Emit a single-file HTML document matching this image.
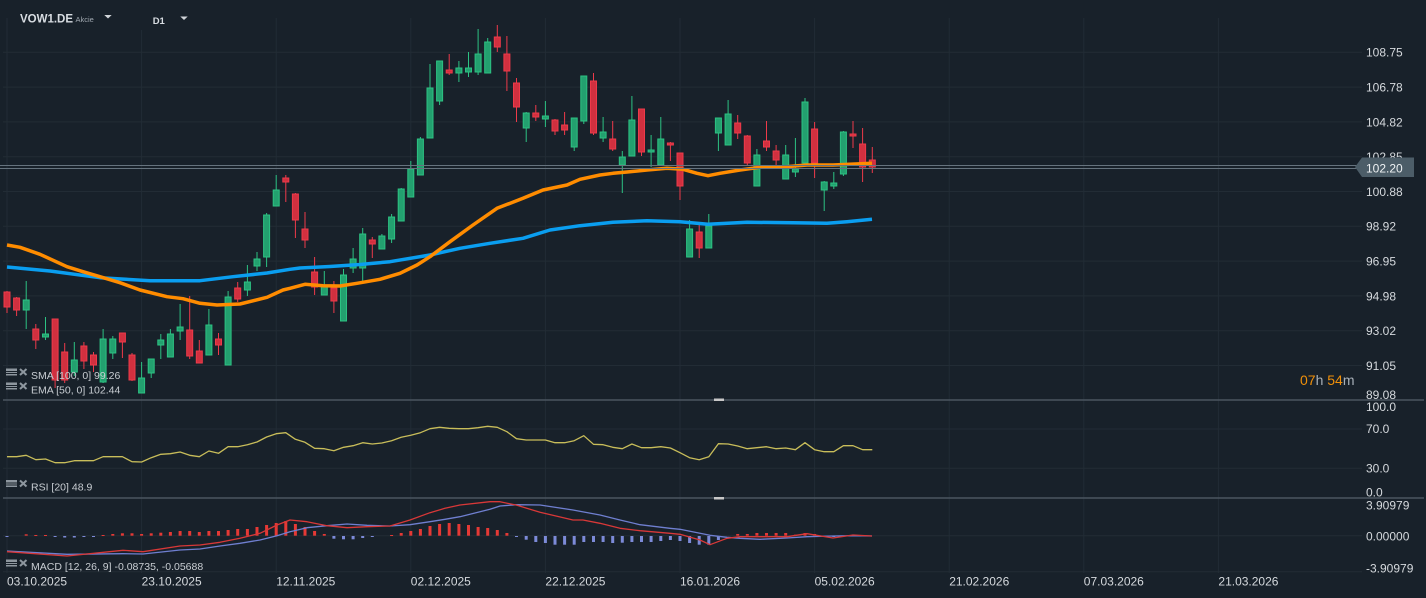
<!DOCTYPE html>
<html><head><meta charset="utf-8"><style>
html,body{margin:0;padding:0;background:#18212a;}
svg{display:block;font-family:"Liberation Sans",Arial,sans-serif;}
.gr{stroke:#222c35;stroke-width:1;}
.g{fill:#23a06f;stroke:#2cc283;stroke-width:1;}
.r{fill:#d1303f;stroke:#ee3a4a;stroke-width:1;}
.gw{stroke:#2cc283;stroke-width:1;}
.rw{stroke:#ee3a4a;stroke-width:1;}
.ax{fill:#d5d9dd;font-size:12px;}
.lg{fill:#c8cdd2;font-size:10.5px;}
.hr{fill:#e53935;}
.hb{fill:#7c8ad8;}
.ic{fill:#8e979f;}
.icx{stroke:#8e979f;stroke-width:2;}
</style></head><body>
<svg width="1426" height="598" viewBox="0 0 1426 598" xmlns="http://www.w3.org/2000/svg">
<rect width="1426" height="598" fill="#18212a"/>
<!-- vertical grid -->
<g class="gr">
<line x1="7" y1="18" x2="7" y2="573"/><line x1="141.6" y1="30" x2="141.6" y2="573"/><line x1="276.2" y1="18" x2="276.2" y2="573"/><line x1="410.8" y1="18" x2="410.8" y2="573"/><line x1="545.4" y1="18" x2="545.4" y2="573"/><line x1="680" y1="18" x2="680" y2="573"/><line x1="814.6" y1="18" x2="814.6" y2="573"/><line x1="949.2" y1="18" x2="949.2" y2="573"/><line x1="1083.8" y1="18" x2="1083.8" y2="573"/><line x1="1218.4" y1="18" x2="1218.4" y2="573"/>
<!-- horizontal grid -->
<line x1="3" y1="52.3" x2="1362" y2="52.3"/><line x1="3" y1="87.1" x2="1362" y2="87.1"/><line x1="3" y1="121.9" x2="1362" y2="121.9"/><line x1="3" y1="156.7" x2="1362" y2="156.7"/><line x1="3" y1="191.5" x2="1362" y2="191.5"/><line x1="3" y1="226.3" x2="1362" y2="226.3"/><line x1="3" y1="261.1" x2="1362" y2="261.1"/><line x1="3" y1="295.9" x2="1362" y2="295.9"/><line x1="3" y1="330.7" x2="1362" y2="330.7"/><line x1="3" y1="365.5" x2="1362" y2="365.5"/>
<line x1="3" y1="429" x2="1362" y2="429"/><line x1="3" y1="468.3" x2="1362" y2="468.3"/>
<line x1="3" y1="535.7" x2="1362" y2="535.7"/><line x1="3" y1="571.7" x2="1362" y2="571.7"/>
</g>
<!-- pane separators -->
<line x1="3" y1="400" x2="1424" y2="400" stroke="#4a5560" stroke-width="1.5"/>
<line x1="3" y1="498" x2="1424" y2="498" stroke="#4a5560" stroke-width="1.5"/>
<rect x="714" y="398.5" width="10" height="2.5" fill="#c8c8c8"/>
<rect x="714" y="497" width="10" height="2.5" fill="#c8c8c8"/>

<!-- candles -->
<g>
<line class="rw" x1="7" y1="291" x2="7" y2="313"/><rect class="r" x="4" y="292" width="6" height="15"/>
<line class="rw" x1="16.6" y1="297" x2="16.6" y2="316"/><rect class="r" x="13.6" y="298" width="6" height="12"/>
<line class="gw" x1="26.2" y1="281" x2="26.2" y2="329"/><rect class="g" x="23.2" y="300" width="6" height="10"/>
<line class="rw" x1="35.8" y1="324" x2="35.8" y2="349"/><rect class="r" x="32.8" y="329" width="6" height="11"/>
<line class="gw" x1="45.5" y1="317" x2="45.5" y2="340"/><rect class="g" x="42.5" y="334" width="6" height="3"/>
<line class="rw" x1="55.1" y1="319" x2="55.1" y2="388"/><rect class="r" x="52.1" y="319" width="6" height="61"/>
<line class="rw" x1="64.7" y1="343" x2="64.7" y2="383"/><rect class="r" x="61.7" y="352" width="6" height="28"/>
<line class="gw" x1="74.3" y1="342" x2="74.3" y2="376"/><rect class="g" x="71.3" y="360" width="6" height="12"/>
<line class="rw" x1="83.9" y1="342" x2="83.9" y2="369"/><rect class="r" x="80.9" y="346" width="6" height="15"/>
<line class="rw" x1="93.5" y1="352" x2="93.5" y2="372"/><rect class="r" x="90.5" y="355" width="6" height="10"/>
<line class="gw" x1="103.1" y1="329" x2="103.1" y2="383"/><rect class="g" x="100.1" y="339" width="6" height="43"/>
<line class="gw" x1="112.8" y1="336" x2="112.8" y2="359"/><rect class="g" x="109.8" y="339" width="6" height="14"/>
<line class="rw" x1="122.4" y1="333" x2="122.4" y2="358"/><rect class="r" x="119.4" y="333" width="6" height="9"/>
<line class="rw" x1="132" y1="353" x2="132" y2="381"/><rect class="r" x="129" y="355" width="6" height="25"/>
<line class="gw" x1="141.6" y1="362" x2="141.6" y2="393"/><rect class="g" x="138.6" y="378" width="6" height="15"/>
<line class="gw" x1="151.2" y1="359" x2="151.2" y2="378"/><rect class="g" x="148.2" y="359" width="6" height="14"/>
<line class="gw" x1="160.8" y1="334" x2="160.8" y2="359"/><rect class="g" x="157.8" y="340" width="6" height="5"/>
<line class="gw" x1="170.4" y1="329" x2="170.4" y2="357"/><rect class="g" x="167.4" y="334" width="6" height="23"/>
<line class="gw" x1="180.1" y1="304" x2="180.1" y2="340"/><rect class="g" x="177.1" y="327" width="6" height="4"/>
<line class="rw" x1="189.7" y1="296" x2="189.7" y2="359"/><rect class="r" x="186.7" y="330" width="6" height="26"/>
<line class="rw" x1="199.3" y1="340" x2="199.3" y2="363"/><rect class="r" x="196.3" y="351" width="6" height="12"/>
<line class="gw" x1="208.9" y1="309" x2="208.9" y2="355"/><rect class="g" x="205.9" y="325" width="6" height="30"/>
<line class="rw" x1="218.5" y1="333" x2="218.5" y2="355"/><rect class="r" x="215.5" y="339" width="6" height="6"/>
<line class="gw" x1="228.1" y1="291" x2="228.1" y2="365"/><rect class="g" x="225.1" y="297" width="6" height="68"/>
<line class="rw" x1="237.7" y1="282" x2="237.7" y2="302"/><rect class="r" x="234.7" y="288" width="6" height="11"/>
<line class="gw" x1="247.4" y1="265" x2="247.4" y2="296"/><rect class="g" x="244.4" y="282" width="6" height="8"/>
<line class="gw" x1="257" y1="252" x2="257" y2="271"/><rect class="g" x="254" y="259" width="6" height="7"/>
<line class="gw" x1="266.6" y1="213" x2="266.6" y2="267"/><rect class="g" x="263.6" y="215" width="6" height="42"/>
<line class="gw" x1="276.2" y1="175" x2="276.2" y2="206"/><rect class="g" x="273.2" y="190" width="6" height="16"/>
<line class="rw" x1="285.8" y1="175" x2="285.8" y2="202"/><rect class="r" x="282.8" y="178" width="6" height="4"/>
<line class="rw" x1="295.4" y1="193" x2="295.4" y2="238"/><rect class="r" x="292.4" y="194" width="6" height="26"/>
<line class="rw" x1="305" y1="212" x2="305" y2="248"/><rect class="r" x="302" y="229" width="6" height="11"/>
<line class="rw" x1="314.6" y1="257" x2="314.6" y2="295"/><rect class="r" x="311.6" y="272" width="6" height="15"/>
<line class="gw" x1="324.3" y1="271" x2="324.3" y2="295"/><rect class="g" x="321.3" y="285" width="6" height="10"/>
<line class="rw" x1="333.9" y1="281" x2="333.9" y2="313"/><rect class="r" x="330.9" y="288" width="6" height="13"/>
<line class="gw" x1="343.5" y1="269" x2="343.5" y2="321"/><rect class="g" x="340.5" y="275" width="6" height="46"/>
<line class="gw" x1="353.1" y1="248" x2="353.1" y2="273"/><rect class="g" x="350.1" y="259" width="6" height="9"/>
<line class="gw" x1="362.7" y1="228" x2="362.7" y2="281"/><rect class="g" x="359.7" y="234" width="6" height="34"/>
<line class="rw" x1="372.3" y1="237" x2="372.3" y2="258"/><rect class="r" x="369.3" y="240" width="6" height="4"/>
<line class="gw" x1="381.9" y1="234" x2="381.9" y2="249"/><rect class="g" x="378.9" y="236" width="6" height="13"/>
<line class="gw" x1="391.6" y1="214" x2="391.6" y2="243"/><rect class="g" x="388.6" y="217" width="6" height="22"/>
<line class="gw" x1="401.2" y1="188" x2="401.2" y2="221"/><rect class="g" x="398.2" y="189" width="6" height="32"/>
<line class="gw" x1="410.8" y1="161" x2="410.8" y2="197"/><rect class="g" x="407.8" y="169" width="6" height="28"/>
<line class="gw" x1="420.4" y1="137" x2="420.4" y2="175"/><rect class="g" x="417.4" y="139" width="6" height="36"/>
<line class="gw" x1="430" y1="64" x2="430" y2="138"/><rect class="g" x="427" y="88" width="6" height="50"/>
<line class="gw" x1="439.6" y1="61" x2="439.6" y2="105"/><rect class="g" x="436.6" y="61" width="6" height="40"/>
<line class="rw" x1="449.2" y1="54" x2="449.2" y2="75"/><rect class="r" x="446.2" y="70" width="6" height="3"/>
<line class="gw" x1="458.9" y1="61" x2="458.9" y2="82"/><rect class="g" x="455.9" y="68" width="6" height="5"/>
<line class="gw" x1="468.5" y1="52" x2="468.5" y2="77"/><rect class="g" x="465.5" y="68" width="6" height="4"/>
<line class="gw" x1="478.1" y1="29" x2="478.1" y2="75"/><rect class="g" x="475.1" y="54" width="6" height="18"/>
<line class="gw" x1="487.7" y1="38" x2="487.7" y2="73"/><rect class="g" x="484.7" y="42" width="6" height="31"/>
<line class="rw" x1="497.3" y1="25" x2="497.3" y2="52"/><rect class="r" x="494.3" y="37" width="6" height="10"/>
<line class="rw" x1="506.9" y1="36" x2="506.9" y2="91"/><rect class="r" x="503.9" y="54" width="6" height="17"/>
<line class="rw" x1="516.5" y1="78" x2="516.5" y2="122"/><rect class="r" x="513.5" y="83" width="6" height="24"/>
<line class="gw" x1="526.2" y1="112" x2="526.2" y2="142"/><rect class="g" x="523.2" y="113" width="6" height="15"/>
<line class="rw" x1="535.8" y1="105" x2="535.8" y2="121"/><rect class="r" x="532.8" y="113" width="6" height="4"/>
<line class="gw" x1="545.4" y1="101" x2="545.4" y2="127"/><rect class="g" x="542.4" y="116" width="6" height="3"/>
<line class="rw" x1="555" y1="119" x2="555" y2="135"/><rect class="r" x="552" y="120" width="6" height="11"/>
<line class="rw" x1="564.6" y1="112" x2="564.6" y2="135"/><rect class="r" x="561.6" y="125" width="6" height="5"/>
<line class="gw" x1="574.2" y1="118" x2="574.2" y2="151"/><rect class="g" x="571.2" y="118" width="6" height="29"/>
<line class="gw" x1="583.8" y1="76" x2="583.8" y2="124"/><rect class="g" x="580.8" y="76" width="6" height="45"/>
<line class="rw" x1="593.5" y1="73" x2="593.5" y2="135"/><rect class="r" x="590.5" y="81" width="6" height="52"/>
<line class="gw" x1="603.1" y1="117" x2="603.1" y2="142"/><rect class="g" x="600.1" y="132" width="6" height="6"/>
<line class="rw" x1="612.7" y1="121" x2="612.7" y2="151"/><rect class="r" x="609.7" y="139" width="6" height="10"/>
<line class="gw" x1="622.3" y1="151" x2="622.3" y2="193"/><rect class="g" x="619.3" y="157" width="6" height="8"/>
<line class="gw" x1="631.9" y1="96" x2="631.9" y2="156"/><rect class="g" x="628.9" y="120" width="6" height="36"/>
<line class="rw" x1="641.5" y1="109" x2="641.5" y2="156"/><rect class="r" x="638.5" y="109" width="6" height="43"/>
<line class="gw" x1="651.1" y1="135" x2="651.1" y2="167"/><rect class="g" x="648.1" y="150" width="6" height="2"/>
<line class="gw" x1="660.8" y1="117" x2="660.8" y2="165"/><rect class="g" x="657.8" y="139" width="6" height="26"/>
<line class="rw" x1="670.4" y1="142" x2="670.4" y2="161"/><rect class="r" x="667.4" y="143" width="6" height="2"/>
<line class="rw" x1="680" y1="153" x2="680" y2="200"/><rect class="r" x="677" y="153" width="6" height="33"/>
<line class="gw" x1="689.6" y1="220" x2="689.6" y2="257"/><rect class="g" x="686.6" y="229" width="6" height="28"/>
<line class="rw" x1="699.2" y1="222" x2="699.2" y2="258"/><rect class="r" x="696.2" y="232" width="6" height="16"/>
<line class="gw" x1="708.8" y1="214" x2="708.8" y2="248"/><rect class="g" x="705.8" y="226" width="6" height="22"/>
<line class="gw" x1="718.4" y1="118" x2="718.4" y2="151"/><rect class="g" x="715.4" y="118" width="6" height="15"/>
<line class="gw" x1="728.1" y1="100" x2="728.1" y2="145"/><rect class="g" x="725.1" y="114" width="6" height="31"/>
<line class="rw" x1="737.7" y1="115" x2="737.7" y2="139"/><rect class="r" x="734.7" y="123" width="6" height="10"/>
<line class="rw" x1="747.3" y1="135" x2="747.3" y2="165"/><rect class="r" x="744.3" y="136" width="6" height="27"/>
<line class="gw" x1="756.9" y1="149" x2="756.9" y2="186"/><rect class="g" x="753.9" y="155" width="6" height="31"/>
<line class="rw" x1="766.5" y1="121" x2="766.5" y2="151"/><rect class="r" x="763.5" y="141" width="6" height="6"/>
<line class="rw" x1="776.1" y1="145" x2="776.1" y2="165"/><rect class="r" x="773.1" y="151" width="6" height="9"/>
<line class="gw" x1="785.7" y1="145" x2="785.7" y2="179"/><rect class="g" x="782.7" y="155" width="6" height="24"/>
<line class="gw" x1="795.4" y1="138" x2="795.4" y2="177"/><rect class="g" x="792.4" y="169" width="6" height="3"/>
<line class="gw" x1="805" y1="98" x2="805" y2="163"/><rect class="g" x="802" y="102" width="6" height="61"/>
<line class="rw" x1="814.6" y1="122" x2="814.6" y2="178"/><rect class="r" x="811.6" y="129" width="6" height="34"/>
<line class="gw" x1="824.2" y1="181" x2="824.2" y2="211"/><rect class="g" x="821.2" y="182" width="6" height="8"/>
<line class="gw" x1="833.8" y1="172" x2="833.8" y2="189"/><rect class="g" x="830.8" y="183" width="6" height="3"/>
<line class="gw" x1="843.4" y1="131" x2="843.4" y2="176"/><rect class="g" x="840.4" y="132" width="6" height="42"/>
<line class="rw" x1="853" y1="121" x2="853" y2="148"/><rect class="r" x="850" y="134" width="6" height="2"/>
<line class="rw" x1="862.6" y1="128" x2="862.6" y2="182"/><rect class="r" x="859.6" y="144" width="6" height="23"/>
<line class="rw" x1="872.3" y1="147" x2="872.3" y2="173"/><rect class="r" x="869.3" y="160" width="6" height="7"/>
</g>

<!-- SMA 100 -->
<polyline fill="none" stroke="#0a9ef0" stroke-width="3.5" stroke-linejoin="round" points="7,267 50,271 100,277.7 150,280.7 200,280.7 233,276.7 267,273 290,269.3 300,268 330,266.5 360,264.5 390,261.7 430,255 460,248.3 490,243.3 523,238.3 550,230 580,225.7 613,222.3 647,220.7 680,221.7 708,224.3 747,222.3 793,222.7 827,223.3 847,221.7 872,219.3"/>
<!-- EMA 50 -->
<polyline fill="none" stroke="#ff8c00" stroke-width="3.5" stroke-linejoin="round" points="7,245 20,247.3 40,254.3 67,266.7 83,271.7 100,276.7 120,282.7 140,290 167,296.7 183,298.7 200,303.3 217,305 240,304 267,297.3 283,290 290,288.3 305,284.3 323,285.7 340,286 357,283.3 380,279.3 400,273.3 417,265 430,256.7 450,241.7 473,225 497,208.3 523,198.3 543,190 567,185 580,179.3 600,175 613,173.3 627,172 647,170 667,168.3 683,169.3 697,173.3 708,175.7 720,173.3 740,170 760,167.3 780,167.3 807,165 833,165 872,163.3"/>

<!-- current price lines -->
<line x1="0" y1="165.5" x2="1360" y2="165.5" stroke="#66737e" stroke-width="1"/>
<line x1="0" y1="168.5" x2="1360" y2="168.5" stroke="#66737e" stroke-width="1"/>

<!-- RSI -->
<polyline fill="none" stroke="#c8bd5a" stroke-width="1.3" stroke-linejoin="round" points="7,456.7 16.6,456.7 26.2,455.3 35.8,459.7 45.5,459 55.1,462.7 64.7,462.7 74.3,460.7 83.9,460.7 93.5,460.7 103.1,456.7 112.8,456.7 122.4,456.7 132,461.7 141.6,462 151.2,457.7 160.8,454.3 170.4,453.7 180.1,452 189.7,455.3 199.3,456.7 208.9,451 218.5,453.3 228.1,446.7 237.7,446.7 247.4,444.7 257,442 266.6,437 276.2,433.7 285.8,432.7 295.4,439.3 305,442.3 314.6,448.3 324.3,448.7 333.9,450.7 343.5,447.3 353.1,445.7 362.7,442.7 372.3,444 381.9,443 391.6,440.7 401.2,437.3 410.8,435.3 420.4,432.7 430,428.7 439.6,427.3 449.2,428.3 458.9,428.7 468.5,428.7 478.1,427.7 487.7,426.3 497.3,427.3 506.9,431.7 516.5,438.7 526.2,440 535.8,440 545.4,440 555,442.7 564.6,442.7 574.2,440.7 583.8,435.7 593.5,444.3 603.1,444.7 612.7,447.3 622.3,448.7 631.9,444 641.5,447.7 651.1,447.7 660.8,446.7 670.4,448 680,452.7 689.6,457.7 699.2,459.7 708.8,456.7 718.4,443.7 728.1,444 737.7,446 747.3,448.7 756.9,447.7 766.5,446.7 776.1,448.7 785.7,448 795.4,449.7 805,442.7 814.6,449.7 824.2,451.7 833.8,451.7 843.4,445.7 853,445.7 862.6,449.7 872.3,449.7"/>

<!-- MACD histogram -->
<g>
<rect class="hb" x="5.5" y="536" width="3" height="1"/>
<rect class="hr" x="24.7" y="534.3" width="3" height="1.4"/>
<rect class="hr" x="34.3" y="535" width="3" height="1"/>
<rect class="hr" x="44" y="535" width="3" height="1"/>
<rect class="hb" x="53.6" y="536" width="3" height="1"/>
<rect class="hb" x="63.2" y="536" width="3" height="1.5"/>
<rect class="hb" x="72.8" y="536" width="3" height="1.5"/>
<rect class="hb" x="82.4" y="536" width="3" height="1"/>
<rect class="hb" x="92" y="536" width="3" height="1"/>
<rect class="hr" x="101.6" y="535" width="3" height="1"/>
<rect class="hr" x="111.3" y="534" width="3" height="1.7"/>
<rect class="hr" x="120.9" y="533.3" width="3" height="2.4"/>
<rect class="hr" x="130.5" y="533.3" width="3" height="2.4"/>
<rect class="hr" x="140.1" y="534" width="3" height="1.7"/>
<rect class="hr" x="149.7" y="533.3" width="3" height="2.4"/>
<rect class="hr" x="159.3" y="532.7" width="3" height="3"/>
<rect class="hr" x="168.9" y="532" width="3" height="3.7"/>
<rect class="hr" x="178.6" y="531" width="3" height="4.7"/>
<rect class="hr" x="188.2" y="531" width="3" height="4.7"/>
<rect class="hr" x="197.8" y="532" width="3" height="3.7"/>
<rect class="hr" x="207.4" y="531" width="3" height="4.7"/>
<rect class="hr" x="217" y="531" width="3" height="4.7"/>
<rect class="hr" x="226.6" y="530" width="3" height="5.7"/>
<rect class="hr" x="236.2" y="529" width="3" height="6.7"/>
<rect class="hr" x="245.9" y="529" width="3" height="6.7"/>
<rect class="hr" x="255.5" y="527" width="3" height="8.7"/>
<rect class="hr" x="265.1" y="525" width="3" height="10.7"/>
<rect class="hr" x="274.7" y="523" width="3" height="12.7"/>
<rect class="hr" x="284.3" y="521" width="3" height="14.7"/>
<rect class="hr" x="293.9" y="524" width="3" height="11.7"/>
<rect class="hr" x="303.5" y="527" width="3" height="8.7"/>
<rect class="hr" x="313.1" y="531" width="3" height="4.7"/>
<rect class="hr" x="322.8" y="534" width="3" height="1.7"/>
<rect class="hb" x="332.4" y="536" width="3" height="2.7"/>
<rect class="hb" x="342" y="536" width="3" height="3.3"/>
<rect class="hb" x="351.6" y="536" width="3" height="3.3"/>
<rect class="hb" x="361.2" y="536" width="3" height="2"/>
<rect class="hb" x="370.8" y="536" width="3" height="1"/>
<rect class="hr" x="390.1" y="535" width="3" height="1"/>
<rect class="hr" x="399.7" y="533" width="3" height="2.7"/>
<rect class="hr" x="409.3" y="531" width="3" height="4.7"/>
<rect class="hr" x="418.9" y="529" width="3" height="6.7"/>
<rect class="hr" x="428.5" y="526" width="3" height="9.7"/>
<rect class="hr" x="438.1" y="524" width="3" height="11.7"/>
<rect class="hr" x="447.7" y="523" width="3" height="12.7"/>
<rect class="hr" x="457.4" y="524" width="3" height="11.7"/>
<rect class="hr" x="467" y="525" width="3" height="10.7"/>
<rect class="hr" x="476.6" y="527" width="3" height="8.7"/>
<rect class="hr" x="486.2" y="528" width="3" height="7.7"/>
<rect class="hr" x="495.8" y="530" width="3" height="5.7"/>
<rect class="hr" x="505.4" y="533" width="3" height="2.7"/>
<rect class="hb" x="515" y="536" width="3" height="1"/>
<rect class="hb" x="524.7" y="536" width="3" height="3.7"/>
<rect class="hb" x="534.3" y="536" width="3" height="6"/>
<rect class="hb" x="543.9" y="536" width="3" height="7"/>
<rect class="hb" x="553.5" y="536" width="3" height="8.7"/>
<rect class="hb" x="563.1" y="536" width="3" height="8.7"/>
<rect class="hb" x="572.7" y="536" width="3" height="8.7"/>
<rect class="hb" x="582.3" y="536" width="3" height="6"/>
<rect class="hb" x="592" y="536" width="3" height="6"/>
<rect class="hb" x="601.6" y="536" width="3" height="6"/>
<rect class="hb" x="611.2" y="536" width="3" height="7"/>
<rect class="hb" x="620.8" y="536" width="3" height="6.7"/>
<rect class="hb" x="630.4" y="536" width="3" height="6"/>
<rect class="hb" x="640" y="536" width="3" height="6"/>
<rect class="hb" x="649.6" y="536" width="3" height="6"/>
<rect class="hb" x="659.3" y="536" width="3" height="5"/>
<rect class="hb" x="668.9" y="536" width="3" height="4"/>
<rect class="hb" x="678.5" y="536" width="3" height="5"/>
<rect class="hb" x="688.1" y="536" width="3" height="7"/>
<rect class="hb" x="697.7" y="536" width="3" height="8.7"/>
<rect class="hb" x="707.3" y="536" width="3" height="8.7"/>
<rect class="hb" x="716.9" y="536" width="3" height="4"/>
<rect class="hr" x="736.2" y="534" width="3" height="1.7"/>
<rect class="hr" x="745.8" y="534" width="3" height="1.7"/>
<rect class="hr" x="755.4" y="533" width="3" height="2.7"/>
<rect class="hr" x="765" y="533" width="3" height="2.7"/>
<rect class="hr" x="774.6" y="533" width="3" height="2.7"/>
<rect class="hr" x="784.2" y="533" width="3" height="2.7"/>
<rect class="hr" x="793.9" y="534.7" width="3" height="1"/>
<rect class="hr" x="803.5" y="533" width="3" height="2.7"/>
<rect class="hr" x="813.1" y="534" width="3" height="1.7"/>
<rect class="hb" x="832.3" y="536" width="3" height="1"/>
<rect class="hr" x="851.5" y="535" width="3" height="1"/>
<rect class="hr" x="861.1" y="535" width="3" height="1"/>
</g>
<!-- MACD signal (blue) -->
<polyline fill="none" stroke="#6f7fd0" stroke-width="1.3" stroke-linejoin="round" points="7,551 67,554.3 123,553.7 143,554 180,550 200,549 220,546 240,543.3 260,540 277,535.7 290,531.7 307,527.7 327,525.7 347,524 367,525.3 390,526 410,524.7 430,521.7 445,519.3 460,516.7 490,509.3 500,506 517,504.7 540,505 573,510 600,515 620,520 640,524.7 670,528.3 680,529.3 700,533.3 710,535.3 727,537.3 740,538.3 760,539.3 787,538 807,536.7 833,536 853,535.7 872,536"/>
<!-- MACD line (red) -->
<polyline fill="none" stroke="#d83838" stroke-width="1.3" stroke-linejoin="round" points="7,551.7 67,556 123,550.3 143,551.7 180,546 200,545 220,542.3 240,538.3 260,533.3 277,525 290,520 307,521.7 327,525.7 347,527.7 367,526.7 390,526 410,520 430,512.7 445,508.3 460,505 490,501.7 500,501.7 517,505.3 540,512.3 573,520 583,520 600,523.3 620,528.3 640,530.7 670,533.3 680,534.3 700,540 710,544.7 727,538.3 740,536.7 760,536.7 787,536.7 807,533.7 833,538 853,535 872,536"/>

<!-- header -->
<text x="20" y="22.7" fill="#d8dde2" font-size="11.5" font-weight="bold">VOW1.DE</text>
<text x="75.5" y="22" fill="#a0a8b0" font-size="7.5">Akcie</text>
<polygon points="104.3,15 111.7,15 108,18.5" fill="#d0d4d8"/>
<text x="152.7" y="24" fill="#d8dde2" font-size="9.5" font-weight="bold">D1</text>
<polygon points="180.3,16.5 187.7,16.5 184,20" fill="#d0d4d8"/>

<!-- right axis -->
<g class="ax">
<text x="1366" y="56.7">108.75</text>
<text x="1366" y="91.5">106.78</text>
<text x="1366" y="126.3">104.82</text>
<text x="1366" y="161.1">102.85</text>
<text x="1366" y="196">100.88</text>
<text x="1366" y="230.7">98.92</text>
<text x="1366" y="265.5">96.95</text>
<text x="1366" y="300.3">94.98</text>
<text x="1366" y="335">93.02</text>
<text x="1366" y="369.8">91.05</text>
<text x="1366" y="399.2">89.08</text>
<text x="1366" y="411">100.0</text>
<text x="1366" y="433">70.0</text>
<text x="1366" y="472.3">30.0</text>
<text x="1366" y="496.7">0.0</text>
<text x="1366" y="509.3">3.90979</text>
<text x="1366" y="540.7">0.00000</text>
<text x="1366" y="572.3">-3.90979</text>
</g>
<polygon points="1355,167 1362,157.5 1414,157.5 1414,177 1362,177" fill="#4c5d68"/>
<text x="1366" y="172.5" fill="#eef1f3" font-size="12">102.20</text>

<!-- countdown -->
<text x="1300" y="385" font-size="14"><tspan fill="#f0900a">07</tspan><tspan fill="#a8b0b8">h </tspan><tspan fill="#f0900a">54</tspan><tspan fill="#a8b0b8">m</tspan></text>

<!-- legends -->
<g>
<rect class="ic" x="6" y="368.5" width="11" height="2.5"/><rect class="ic" x="6" y="372" width="11" height="1"/><rect class="ic" x="6" y="374" width="11" height="1.5"/>
<line class="icx" x1="20" y1="369" x2="26.5" y2="375"/><line class="icx" x1="26.5" y1="369" x2="20" y2="375"/>
<text class="lg" x="31" y="379">SMA [100,  0] 99.26</text>
<rect class="ic" x="6" y="382.5" width="11" height="2.5"/><rect class="ic" x="6" y="386" width="11" height="1"/><rect class="ic" x="6" y="388" width="11" height="1.5"/>
<line class="icx" x1="20" y1="383" x2="26.5" y2="389"/><line class="icx" x1="26.5" y1="383" x2="20" y2="389"/>
<text class="lg" x="31" y="393.3">EMA [50,  0] 102.44</text>
<rect class="ic" x="6" y="480" width="11" height="2.5"/><rect class="ic" x="6" y="483.5" width="11" height="1"/><rect class="ic" x="6" y="485.5" width="11" height="1.5"/>
<line class="icx" x1="20" y1="480.5" x2="26.5" y2="486.5"/><line class="icx" x1="26.5" y1="480.5" x2="20" y2="486.5"/>
<text class="lg" x="31" y="490.7">RSI  [20]  48.9</text>
<rect class="ic" x="6" y="559.5" width="11" height="2.5"/><rect class="ic" x="6" y="563" width="11" height="1"/><rect class="ic" x="6" y="565" width="11" height="1.5"/>
<line class="icx" x1="20" y1="560" x2="26.5" y2="566"/><line class="icx" x1="26.5" y1="560" x2="20" y2="566"/>
<text class="lg" x="31" y="570">MACD [12,  26,  9]  -0.08735,  -0.05688</text>
</g>

<!-- x axis -->
<g class="ax">
<text x="7" y="585.5">03.10.2025</text>
<text x="141.6" y="585.5">23.10.2025</text>
<text x="276.2" y="585.5">12.11.2025</text>
<text x="410.8" y="585.5">02.12.2025</text>
<text x="545.4" y="585.5">22.12.2025</text>
<text x="680" y="585.5">16.01.2026</text>
<text x="814.6" y="585.5">05.02.2026</text>
<text x="949.2" y="585.5">21.02.2026</text>
<text x="1083.8" y="585.5">07.03.2026</text>
<text x="1218.4" y="585.5">21.03.2026</text>
</g>
</svg>
</body></html>
